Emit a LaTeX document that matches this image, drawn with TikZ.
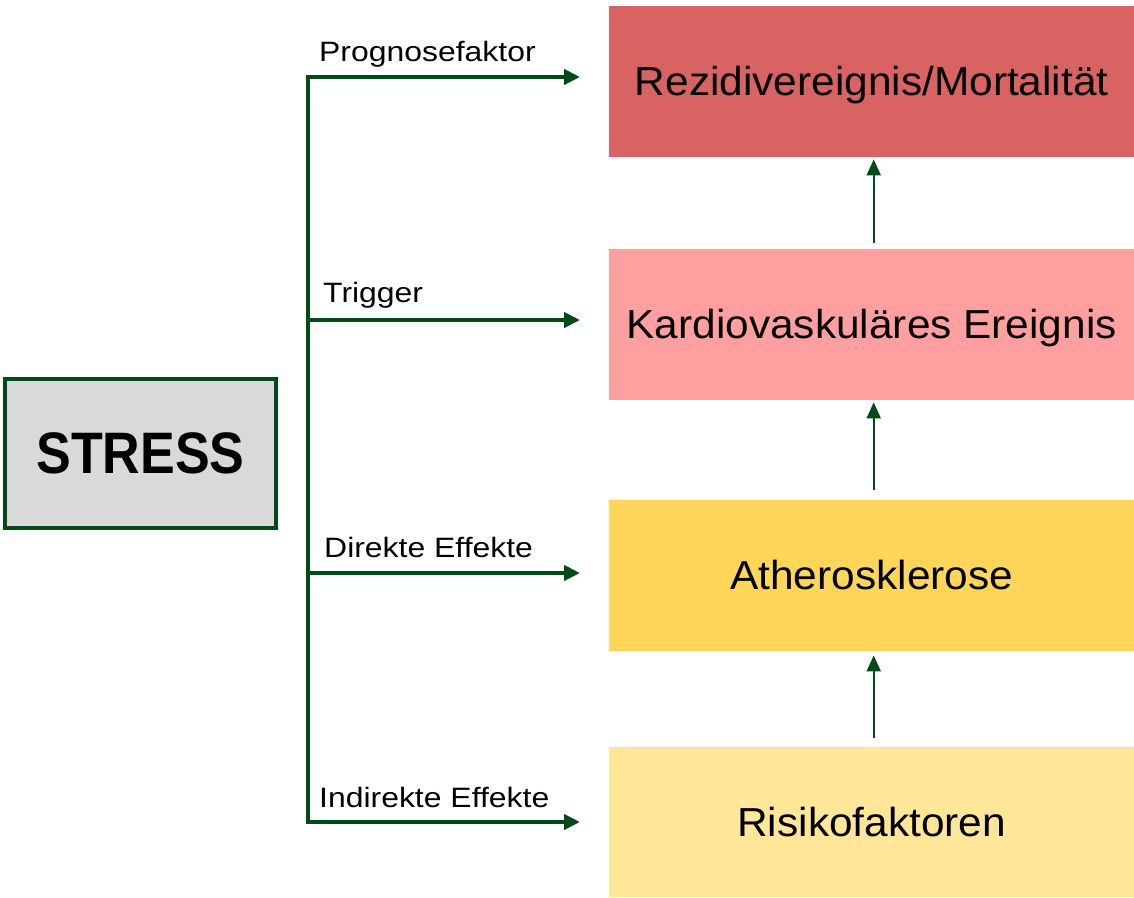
\documentclass[tikz,border=0pt]{standalone}
\usepackage{fontspec}
\setmainfont{Liberation Sans}
\newfontfamily\stagefont[FakeStretch=1.047]{Liberation Sans}
\newfontfamily\tagfont[FakeStretch=1.14]{Liberation Sans}
\newfontfamily\stressfont[FakeStretch=0.89]{Liberation Sans}
\usetikzlibrary{arrows.meta,calc}
\definecolor{dgreen}{HTML}{004A18}
\definecolor{stressgray}{HTML}{D9D9D9}
\definecolor{rezred}{HTML}{D96262}
\definecolor{kardpink}{HTML}{FF9F9F}
\definecolor{athyellow}{HTML}{FFD659}
\definecolor{riskyellow}{HTML}{FFE699}
\tikzset{
  stage/.style={minimum width=525pt,minimum height=151pt,inner sep=0pt,
    text height=33pt,text depth=5pt,
    anchor=north west,font=\stagefont\fontsize{40.5}{46}\selectfont},
  branch/.style={draw=dgreen,line width=4pt,-{Triangle[length=16pt,width=15pt]}},
  lift/.style={draw=dgreen,line width=2pt,-{Triangle[length=16pt,width=14pt]}},
  tag/.style={anchor=base west,inner sep=0pt,font=\tagfont\fontsize{28}{32}\selectfont}
}
\begin{document}
\begin{tikzpicture}[x=1pt,y=-1pt]
  \useasboundingbox (0,0) rectangle (1134,897);
  % stages
  \node[stage,fill=rezred] (rez) at (609,6) {Rezidivereignis/Mortalität};
  \node[stage,fill=kardpink] (kard) at (609,249) {Kardiovaskuläres Ereignis};
  \node[stage,fill=athyellow] (ath) at (609,500) {Atherosklerose};
  \node[stage,fill=riskyellow,minimum height=150pt] (risk) at (609,747) {Risikofaktoren};
  % stress box
  \node[draw=dgreen,line width=4pt,fill=stressgray,minimum width=271pt,minimum height=149pt,
    inner sep=0pt,font=\stressfont\fontsize{58.5}{64}\selectfont\bfseries] (stress) at (140.5,453.5) {STRESS};
  % trunk
  \coordinate (t1) at (308,77);
  \coordinate (t2) at (308,320);
  \coordinate (t3) at (308,573);
  \coordinate (t4) at (308,822);
  \draw[dgreen,line width=4pt,line cap=rect] (t1) -- (t4);
  \draw[branch,shorten >=29pt] (t1) -- (t1 -| rez.west);
  \draw[branch,shorten >=29pt] (t2) -- (t2 -| kard.west);
  \draw[branch,shorten >=29pt] (t3) -- (t3 -| ath.west);
  \draw[branch,shorten >=29pt] (t4) -- (t4 -| risk.west);
  \node[tag] (l1) at (319,61) {Prognosefaktor};
  \node[tag] (l2) at (323,302) {Trigger};
  \node[tag] (l3) at (324,557) {Direkte Effekte};
  \node[tag] (l4) at (319,807) {Indirekte Effekte};
  % upward arrows
  \draw[lift,shorten <=6pt,shorten >=2pt] ($(kard.north)+(2,0)$) -- ($(rez.south)+(2,0)$);
  \draw[lift,shorten <=10pt,shorten >=2pt] ($(ath.north)+(2,0)$) -- ($(kard.south)+(2,0)$);
  \draw[lift,shorten <=9pt,shorten >=4pt] ($(risk.north)+(2,0)$) -- ($(ath.south)+(2,0)$);
\end{tikzpicture}
\end{document}
